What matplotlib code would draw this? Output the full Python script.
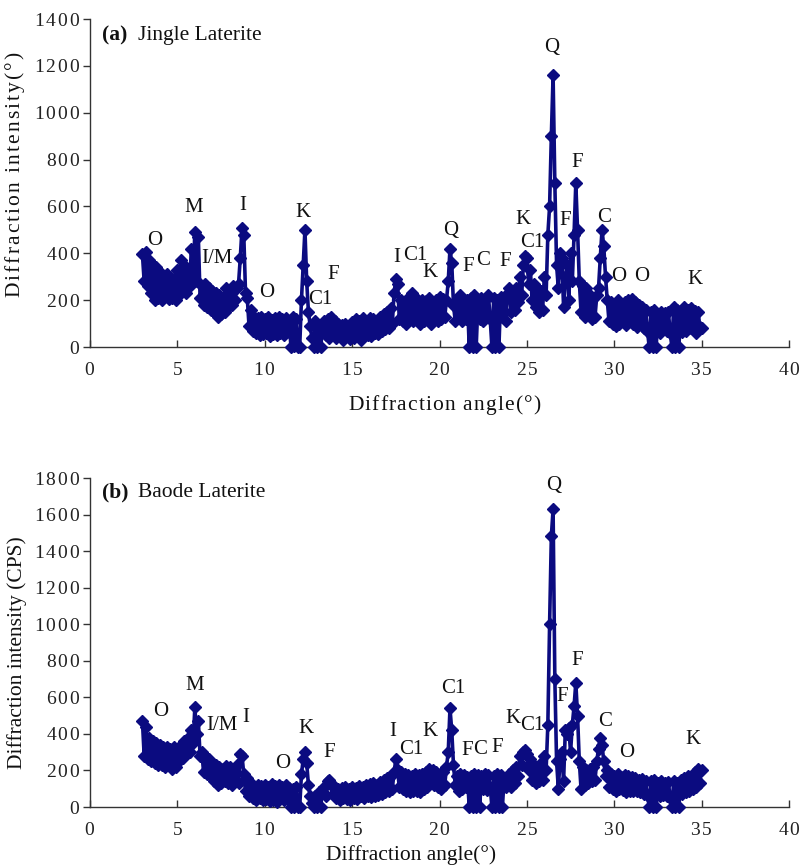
import numpy as np
import matplotlib
matplotlib.use("Agg")
import matplotlib.pyplot as plt
from matplotlib.ticker import FuncFormatter

plt.rcParams['font.family'] = ['Liberation Serif', 'DejaVu Serif']
plt.rcParams['mathtext.fontset'] = 'custom'
plt.rcParams['mathtext.rm'] = 'Liberation Serif'
plt.rcParams['mathtext.it'] = 'Liberation Serif:italic'
plt.rcParams['mathtext.bf'] = 'Liberation Serif:bold'

# ---------------- data ----------------
angle_start, angle_step = 3.0, 0.1
angles = np.round(np.arange(321) * angle_step + angle_start, 2)

jingle_intensity = [
    395, 280, 405, 260, 370, 230, 350, 200, 340, 210,   # 3
    320, 200, 300, 230, 310, 205, 300, 210, 290, 200,   # 4
    330, 220, 370, 240, 350, 230, 330, 260, 420, 300,   # 5
    490, 280, 470, 210, 260, 180, 270, 170, 250, 160,   # 6
    240, 150, 230, 130, 220, 140, 210, 150, 250, 170,   # 7
    240, 180, 260, 200, 250, 270, 380, 510, 480, 230,   # 8
    210, 90, 160, 70, 130, 60, 125, 50, 130, 55,        # 9
    120, 60, 130, 45, 115, 55, 125, 50, 130, 60,        # 10
    120, 50, 125, 65, 110, 0, 130, 5, 120, 0,           # 11
    0, 200, 350, 500, 280, 150, 90, 40, 0, 110,         # 12
    0, 90, 0, 70, 110, 50, 120, 40, 130, 60,            # 13
    110, 40, 100, 50, 95, 30, 100, 45, 90, 35,          # 14
    105, 40, 120, 55, 110, 30, 125, 60, 100, 50,        # 15
    125, 45, 120, 60, 110, 55, 130, 70, 140, 75,        # 16
    150, 80, 165, 100, 230, 290, 270, 120, 200, 110,    # 17
    190, 100, 210, 130, 230, 110, 215, 120, 190, 100,   # 18
    200, 110, 195, 120, 210, 100, 190, 120, 200, 110,   # 19
    215, 120, 205, 130, 200, 280, 420, 360, 180, 110,   # 20
    200, 130, 220, 110, 190, 120, 200, 0, 210, 0,       # 21
    220, 0, 190, 120, 210, 110, 200, 130, 220, 120,     # 22
    0, 210, 0, 200, 0, 215, 130, 210, 110, 230,         # 23
    250, 150, 240, 160, 250, 190, 300, 220, 350, 390,   # 24
    380, 270, 330, 200, 270, 170, 250, 150, 240, 160,   # 25
    300, 220, 480, 600, 900, 1160, 700, 350, 250, 400,  # 26
    380, 170, 300, 350, 200, 400, 280, 480, 700, 500,   # 27
    280, 150, 260, 130, 250, 140, 220, 120, 210, 130,   # 28
    220, 250, 380, 500, 430, 300, 200, 110, 190, 100,   # 29
    185, 90, 200, 100, 185, 110, 190, 95, 200, 110,     # 30
    205, 100, 190, 85, 180, 100, 170, 80, 160, 70,      # 31
    0, 150, 0, 160, 0, 140, 60, 150, 75, 145,           # 32
    70, 150, 60, 0, 170, 0, 160, 0, 155, 65,            # 33
    170, 70, 160, 80, 165, 75, 155, 60, 150, 85,        # 34
    80,                                                 # 35
]

baode_intensity = [
    470, 280, 440, 260, 380, 250, 360, 240, 350, 230,   # 3
    340, 230, 330, 220, 330, 240, 320, 210, 330, 220,   # 4
    320, 250, 340, 270, 360, 290, 380, 300, 420, 350,   # 5
    545, 400, 470, 280, 300, 190, 280, 180, 260, 170,   # 6
    240, 140, 230, 120, 220, 130, 210, 140, 225, 130,   # 7
    220, 120, 210, 140, 230, 130, 290, 280, 180, 90,    # 8
    160, 60, 130, 50, 110, 40, 120, 50, 115, 40,        # 9
    120, 45, 110, 35, 125, 40, 115, 30, 120, 50,        # 10
    110, 40, 120, 50, 105, 0, 100, 0, 110, 0,           # 11
    0, 180, 260, 300, 240, 120, 60, 20, 0, 60,          # 12
    0, 80, 0, 90, 110, 60, 140, 150, 120, 70,           # 13
    110, 50, 100, 40, 105, 50, 110, 45, 100, 40,        # 14
    110, 50, 105, 45, 115, 60, 110, 50, 120, 60,        # 15
    125, 55, 130, 60, 120, 65, 135, 70, 150, 80,        # 16
    160, 85, 170, 100, 190, 260, 200, 110, 190, 100,    # 17
    180, 90, 175, 80, 170, 85, 180, 90, 175, 80,        # 18
    180, 100, 190, 110, 210, 160, 200, 120, 190, 110,   # 19
    180, 100, 190, 120, 220, 300, 540, 420, 230, 120,   # 20
    170, 90, 180, 100, 175, 110, 165, 0, 170, 0,        # 21
    180, 0, 175, 0, 170, 100, 180, 95, 175, 110,        # 22
    0, 170, 0, 180, 0, 175, 0, 160, 110, 170,           # 23
    180, 110, 200, 130, 220, 170, 280, 230, 300, 310,   # 24
    290, 200, 260, 150, 230, 130, 220, 140, 240, 150,   # 25
    280, 200, 450, 1000, 1480, 1630, 700, 250, 100, 260,  # 26
    300, 140, 420, 400, 430, 300, 450, 550, 680, 500,   # 27
    250, 100, 220, 120, 200, 130, 210, 140, 220, 150,   # 28
    250, 320, 380, 340, 250, 170, 200, 110, 180, 100,   # 29
    170, 90, 180, 100, 165, 95, 175, 80, 170, 90,       # 30
    165, 85, 160, 90, 150, 80, 155, 70, 140, 65,        # 31
    0, 140, 0, 150, 0, 130, 60, 140, 65, 130,           # 32
    60, 135, 50, 0, 140, 0, 130, 0, 150, 70,            # 33
    160, 80, 170, 90, 165, 100, 190, 110, 210, 130,     # 34
    200,                                                # 35
]

# peak labels: (text, angle, intensity position)
jingle_labels = ["O", "M", "I/M", "I", "O", "K", "F", "C1", "I", "C1", "K", "Q",
                 "F", "C", "F", "K", "C1", "Q", "F", "F", "C", "O", "O", "K"]
jingle_label_x = [3.72, 5.95, 7.25, 8.72, 10.11, 12.17, 13.89, 13.2, 17.55, 18.6, 19.46, 20.65,
                  21.66, 22.51, 23.75, 24.75, 25.28, 26.43, 27.86, 27.19, 29.44, 30.24, 31.58, 34.63]
jingle_label_y = [455, 596, 378, 604, 231, 573, 311, 203, 384, 391, 316, 498,
                  345, 370, 363, 543, 448, 1278, 788, 540, 554, 302, 299, 288]

baode_labels = ["O", "M", "I/M", "I", "O", "K", "F", "I", "C1", "K", "C1", "F", "C", "F",
                "K", "C1", "Q", "F", "F", "C", "O", "K"]
baode_label_x = [4.05, 6.01, 7.54, 8.93, 11.03, 12.36, 13.7, 17.33, 18.41, 19.46, 20.8, 21.56, 22.32, 23.28,
                 24.23, 25.28, 26.56, 27.86, 27.04, 29.48, 30.72, 34.53]
baode_label_y = [521, 667, 448, 490, 239, 430, 297, 412, 315, 412, 649, 308, 312, 326,
                 485, 448, 1760, 800, 603, 466, 297, 370]

x_ticks = [0, 5, 10, 15, 20, 25, 30, 35, 40]
jingle_yticks = [0, 200, 400, 600, 800, 1000, 1200, 1400]
baode_yticks = [0, 200, 400, 600, 800, 1000, 1200, 1400, 1600, 1800]


def spaced(s, em):
    """Letter-spaced text (real text, rendered with mathtext spacing)."""
    parts = []
    for ch in s:
        parts.append(r'\ ' if ch == ' ' else ch)
    return r'$\mathrm{' + (r'\hspace{%g}' % em).join(parts) + '}$'


# ---------------- plotting ----------------
W, H = 802, 866
fig = plt.figure(figsize=(W / 100, H / 100), dpi=100)

navy = '#0b0b80'
tick_fmt = FuncFormatter(lambda v, p: spaced(str(int(round(v))), 0.15))


def make_axes(rect, y, ymax, yticks, labels, lx, ly, tag, tag_y, name,
              xlabel, ylabel, xlabel_pos, ylabel_pos):
    ax = fig.add_axes(rect)
    ax.plot(angles, y, color=navy, lw=2.6, marker='D', markersize=6.2,
            markerfacecolor=navy, markeredgecolor=navy, clip_on=False, zorder=3,
            solid_joinstyle='round')
    ax.set_xlim(0, 40)
    ax.set_ylim(0, ymax)
    ax.set_xticks(x_ticks)
    ax.set_yticks(yticks)
    ax.xaxis.set_major_formatter(tick_fmt)
    ax.yaxis.set_major_formatter(tick_fmt)
    for s in ['top', 'right']:
        ax.spines[s].set_visible(False)
    for s in ['left', 'bottom']:
        ax.spines[s].set_linewidth(1.0)
        ax.spines[s].set_color('#333333')
    ax.tick_params(axis='x', direction='in', length=5, width=1, labelsize=14, pad=11,
                   colors='#333333', labelcolor='#222222')
    ax.tick_params(axis='y', direction='out', length=5, width=1, labelsize=14, pad=2,
                   colors='#333333', labelcolor='#222222')
    for txt, xx, yy in zip(labels, lx, ly):
        ax.text(xx, yy, txt, ha='center', va='center', fontsize=15, color='#111111')
    ax.text(0.017, tag_y, tag, transform=ax.transAxes, fontsize=15.5,
            fontweight='bold', ha='left', va='center', color='#111111')
    ax.text(0.068, tag_y, name, transform=ax.transAxes, fontsize=15.5,
            ha='left', va='center', color='#111111')
    ax.set_xlabel(xlabel, fontsize=15.5, color='#111111')
    ax.xaxis.set_label_coords(*xlabel_pos)
    ax.set_ylabel(ylabel, fontsize=15.5, color='#111111')
    ax.yaxis.set_label_coords(*ylabel_pos)
    return ax


make_axes([90 / W, 1 - 347 / H, 699 / W, 328 / H], jingle_intensity, 1400, jingle_yticks,
          jingle_labels, jingle_label_x, jingle_label_y, "(a)", 0.951, "Jingle Laterite",
          spaced("Diffraction angle(°)", 0.075), spaced("Diffraction intensity(°)", 0.134),
          (0.507, -0.14), (-0.09, 0.524))

make_axes([90 / W, 1 - 807 / H, 699 / W, 329 / H], baode_intensity, 1800, baode_yticks,
          baode_labels, baode_label_x, baode_label_y, "(b)", 0.957, "Baode Laterite",
          "Diffraction angle(°)", "Diffraction intensity (CPS)",
          (0.46, -0.116), (-0.09, 0.468))

fig.savefig("out.png", dpi=100)
